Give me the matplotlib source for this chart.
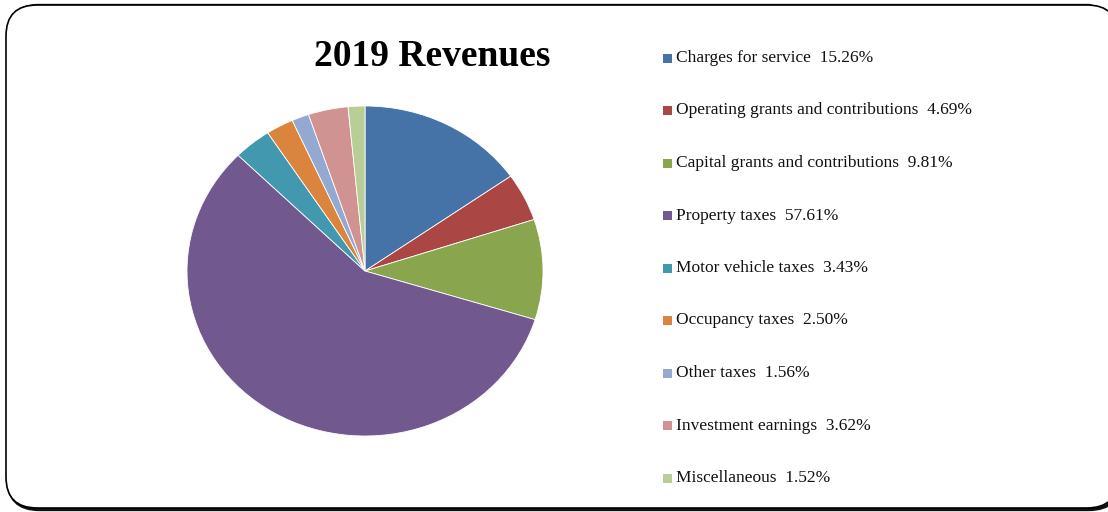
import matplotlib.pyplot as plt
from matplotlib.patches import FancyBboxPatch, Rectangle

categories = [
    "Charges for service",
    "Operating grants and contributions",
    "Capital grants and contributions",
    "Property taxes",
    "Motor vehicle taxes",
    "Occupancy taxes",
    "Other taxes",
    "Investment earnings",
    "Miscellaneous",
]
shares = [15.26, 4.69, 9.81, 57.61, 3.43, 2.50, 1.56, 3.62, 1.52]
colors = ["#4572A7", "#AA4643", "#89A54E", "#71588F", "#4198AF",
          "#DB843D", "#93A9CF", "#D19392", "#B9CD96"]

W, H = 1108, 512
fig = plt.figure(figsize=(W / 100, H / 100), dpi=100)
fig.patch.set_facecolor("white")

# rounded frame with a little drop shadow on the right / bottom
shadow = FancyBboxPatch((8 / W, 2.5 / H), 1112 / W, 504 / H,
                        boxstyle="round,pad=0,rounding_size=0.028",
                        mutation_aspect=W / H,
                        transform=fig.transFigure, facecolor="none",
                        edgecolor="#111111", linewidth=2.4, zorder=0)
frame = FancyBboxPatch((6 / W, 4 / H), 1112 / W, 503 / H,
                       boxstyle="round,pad=0,rounding_size=0.028",
                       mutation_aspect=W / H,
                       transform=fig.transFigure, facecolor="white",
                       edgecolor="black", linewidth=1.2, zorder=1)
fig.patches.extend([shadow, frame])

# pie, a bit wider than tall
cx, cy, rx, ry = 365, 271, 178, 165
ax = fig.add_axes([(cx - rx) / W, (H - cy - ry) / H, 2 * rx / W, 2 * ry / H])
ax.pie(shares, colors=colors, startangle=90, counterclock=False, radius=1,
       wedgeprops=dict(edgecolor="white", linewidth=0.6))
ax.set_aspect("auto")
ax.set_xlim(-1, 1)
ax.set_ylim(-1, 1)
ax.set_zorder(2)

fig.text(432 / W, 1 - 57 / H, "2019 Revenues", ha="center", va="center",
         fontsize=27, fontweight="bold", family="Liberation Serif", zorder=3)

# legend entries
y0, step = 58, 52.5
for i, (name, val, col) in enumerate(zip(categories, shares, colors)):
    y = y0 + i * step
    fig.patches.append(Rectangle((663 / W, 1 - (y + 4.5) / H), 9 / W, 9 / H,
                                 transform=fig.transFigure, facecolor=col,
                                 edgecolor="none", zorder=3))
    fig.text(676 / W, 1 - y / H, f"{name}  {val:.2f}%", ha="left", va="center",
             fontsize=12.5, family="Liberation Serif", color="#111111", zorder=3)

fig.savefig("out.png", dpi=100)
